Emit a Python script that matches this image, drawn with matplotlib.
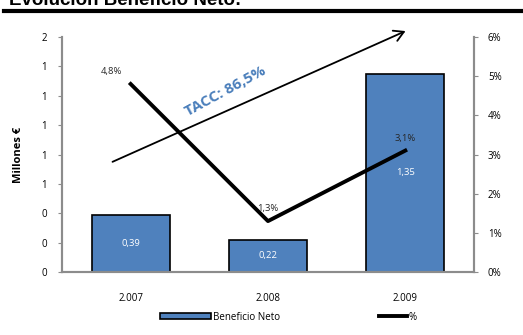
import matplotlib
matplotlib.use("Agg")
import matplotlib.pyplot as plt
from matplotlib.lines import Line2D
from matplotlib.ticker import FuncFormatter, MultipleLocator

years = ["2.007", "2.008", "2.009"]
beneficio = [0.39, 0.22, 1.35]
pct = [4.8, 1.3, 3.1]
bar_labels = ["0,39", "0,22", "1,35"]
pct_labels = ["4,8%", "1,3%", "3,1%"]

plt.rcParams['font.family'] = ['Open Sans', 'DejaVu Sans']

fig = plt.figure(figsize=(5.23, 3.35), dpi=100)
ax = fig.add_axes([0.1185, 0.188, 0.7878, 0.7016])
ax2 = ax.twinx()

x = list(range(len(years)))
bars = ax.bar(x, beneficio, width=0.57, color="#4F81BD", edgecolor="black", linewidth=1.2, zorder=2,
              label="Beneficio Neto")
for xi, v, lab in zip(x, beneficio, bar_labels):
    ax.text(xi, v / 2, lab, ha="center", va="center", color="white", fontsize=6.8, zorder=3)

ax.set_xlim(-0.5, 2.5)
ax.set_ylim(0, 1.6)
ax.yaxis.set_major_locator(MultipleLocator(0.2))
ax.yaxis.set_major_formatter(FuncFormatter(lambda v, p: f"{v:.0f}"))
ax.set_xticks(x)
ax.set_xticklabels(years)
ax.tick_params(axis="x", length=0, labelsize=7, pad=15)
ax.tick_params(axis="y", length=3, color="#8c8c8c", labelsize=7, pad=8)
ax.set_ylabel("Millones €", fontsize=8, fontweight="bold", labelpad=12)

line, = ax2.plot(x, pct, color="black", linewidth=2.8, zorder=4, label="%")
for xi, v, lab in zip(x, pct, pct_labels):
    ax2.text(xi - (0.14 if xi == 0 else 0), v + 0.2, lab, ha="center", va="bottom",
             fontsize=6.8, color="#262626", zorder=5)
ax2.set_ylim(0, 6)
ax2.yaxis.set_major_locator(MultipleLocator(1))
ax2.yaxis.set_major_formatter(FuncFormatter(lambda v, p: f"{v:.0f}%"))
ax2.tick_params(axis="y", length=3, color="#8c8c8c", labelsize=7, pad=7)

for a in (ax, ax2):
    a.spines["top"].set_visible(False)
    for s in ("left", "right", "bottom"):
        a.spines[s].set_color("#8c8c8c")
        a.spines[s].set_linewidth(1.5)

# CAGR arrow
ax2.annotate("", xy=(0.84, 1.03), xytext=(0.1165, 0.464), xycoords="axes fraction",
             textcoords="axes fraction",
             arrowprops=dict(arrowstyle="->,head_length=0.7,head_width=0.4", color="black", lw=1.3),
             annotation_clip=False)
ax2.text(0.398, 0.77, "TACC: 86,5%", transform=ax2.transAxes, rotation=28.5,
         ha="center", va="center", color="#4A7EBB", fontsize=11, fontweight="bold")

# Legends
leg1 = fig.legend([bars], ["Beneficio Neto"], loc="center left", bbox_to_anchor=(0.305, 0.053),
                  frameon=False, fontsize=7, handlelength=5.3, handleheight=0.6, handletextpad=0.15,
                  borderaxespad=0, borderpad=0)
leg2 = fig.legend([line], ["%"], loc="center left", bbox_to_anchor=(0.724, 0.053),
                  frameon=False, fontsize=7, handlelength=2.9, handletextpad=0.15,
                  borderaxespad=0, borderpad=0)

# Title (cut at top, as in the original) and rule
fig.text(0.017, 0.985, "Evolución Beneficio Neto:", fontsize=13.5, fontweight="bold",
         family=["Liberation Sans", "DejaVu Sans"], va="baseline")
fig.add_artist(Line2D([0.008, 1.0], [0.9657, 0.9657], transform=fig.transFigure, color="black", lw=3))

fig.savefig("out.png", dpi=100)
